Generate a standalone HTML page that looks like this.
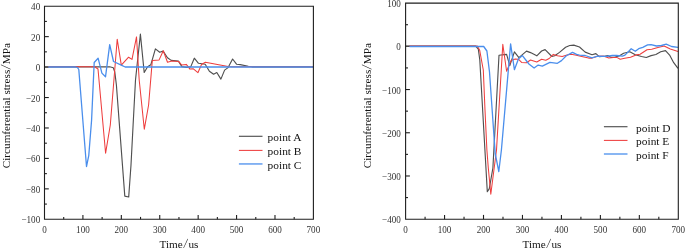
<!DOCTYPE html>
<html><head><meta charset="utf-8"><style>
html,body{margin:0;padding:0;background:#fff;}
svg{display:block;}
.tk{font-family:'Liberation Serif', 'Times New Roman', serif;font-size:9.8px;fill:#333;}
.ti{font-family:'Liberation Serif', 'Times New Roman', serif;font-size:11.2px;fill:#111;}
.lg{font-family:'Liberation Serif', 'Times New Roman', serif;font-size:11.4px;fill:#111;}
.sl{font-family:'IPAGothic',sans-serif;}
</style></head><body>
<svg width="685" height="248" viewBox="0 0 685 248">
<rect width="685" height="248" fill="#fff"/>
<line x1="63.71" y1="219.30" x2="63.71" y2="216.90" stroke="#1e1e1e" stroke-width="1.1"/>
<line x1="82.91" y1="219.30" x2="82.91" y2="215.00" stroke="#1e1e1e" stroke-width="1.1"/>
<line x1="102.12" y1="219.30" x2="102.12" y2="216.90" stroke="#1e1e1e" stroke-width="1.1"/>
<line x1="121.33" y1="219.30" x2="121.33" y2="215.00" stroke="#1e1e1e" stroke-width="1.1"/>
<line x1="140.54" y1="219.30" x2="140.54" y2="216.90" stroke="#1e1e1e" stroke-width="1.1"/>
<line x1="159.74" y1="219.30" x2="159.74" y2="215.00" stroke="#1e1e1e" stroke-width="1.1"/>
<line x1="178.95" y1="219.30" x2="178.95" y2="216.90" stroke="#1e1e1e" stroke-width="1.1"/>
<line x1="198.16" y1="219.30" x2="198.16" y2="215.00" stroke="#1e1e1e" stroke-width="1.1"/>
<line x1="217.36" y1="219.30" x2="217.36" y2="216.90" stroke="#1e1e1e" stroke-width="1.1"/>
<line x1="236.57" y1="219.30" x2="236.57" y2="215.00" stroke="#1e1e1e" stroke-width="1.1"/>
<line x1="255.78" y1="219.30" x2="255.78" y2="216.90" stroke="#1e1e1e" stroke-width="1.1"/>
<line x1="274.99" y1="219.30" x2="274.99" y2="215.00" stroke="#1e1e1e" stroke-width="1.1"/>
<line x1="294.19" y1="219.30" x2="294.19" y2="216.90" stroke="#1e1e1e" stroke-width="1.1"/>
<line x1="44.50" y1="204.08" x2="46.90" y2="204.08" stroke="#1e1e1e" stroke-width="1.1"/>
<line x1="44.50" y1="188.86" x2="48.80" y2="188.86" stroke="#1e1e1e" stroke-width="1.1"/>
<line x1="44.50" y1="173.64" x2="46.90" y2="173.64" stroke="#1e1e1e" stroke-width="1.1"/>
<line x1="44.50" y1="158.41" x2="48.80" y2="158.41" stroke="#1e1e1e" stroke-width="1.1"/>
<line x1="44.50" y1="143.19" x2="46.90" y2="143.19" stroke="#1e1e1e" stroke-width="1.1"/>
<line x1="44.50" y1="127.97" x2="48.80" y2="127.97" stroke="#1e1e1e" stroke-width="1.1"/>
<line x1="44.50" y1="112.75" x2="46.90" y2="112.75" stroke="#1e1e1e" stroke-width="1.1"/>
<line x1="44.50" y1="97.53" x2="48.80" y2="97.53" stroke="#1e1e1e" stroke-width="1.1"/>
<line x1="44.50" y1="82.31" x2="46.90" y2="82.31" stroke="#1e1e1e" stroke-width="1.1"/>
<line x1="44.50" y1="67.09" x2="48.80" y2="67.09" stroke="#1e1e1e" stroke-width="1.1"/>
<line x1="44.50" y1="51.86" x2="46.90" y2="51.86" stroke="#1e1e1e" stroke-width="1.1"/>
<line x1="44.50" y1="36.64" x2="48.80" y2="36.64" stroke="#1e1e1e" stroke-width="1.1"/>
<line x1="44.50" y1="21.42" x2="46.90" y2="21.42" stroke="#1e1e1e" stroke-width="1.1"/>
<text transform="translate(44.50,232.6) scale(0.93,1)" text-anchor="middle" class="tk">0</text>
<text transform="translate(82.91,232.6) scale(0.93,1)" text-anchor="middle" class="tk">100</text>
<text transform="translate(121.33,232.6) scale(0.93,1)" text-anchor="middle" class="tk">200</text>
<text transform="translate(159.74,232.6) scale(0.93,1)" text-anchor="middle" class="tk">300</text>
<text transform="translate(198.16,232.6) scale(0.93,1)" text-anchor="middle" class="tk">400</text>
<text transform="translate(236.57,232.6) scale(0.93,1)" text-anchor="middle" class="tk">500</text>
<text transform="translate(274.99,232.6) scale(0.93,1)" text-anchor="middle" class="tk">600</text>
<text transform="translate(313.40,232.6) scale(0.93,1)" text-anchor="middle" class="tk">700</text>
<text transform="translate(40.20,223.30) scale(0.93,1)" text-anchor="end" class="tk">−100</text>
<text transform="translate(40.20,192.86) scale(0.93,1)" text-anchor="end" class="tk">−80</text>
<text transform="translate(40.20,162.41) scale(0.93,1)" text-anchor="end" class="tk">−60</text>
<text transform="translate(40.20,131.97) scale(0.93,1)" text-anchor="end" class="tk">−40</text>
<text transform="translate(40.20,101.53) scale(0.93,1)" text-anchor="end" class="tk">−20</text>
<text transform="translate(40.20,71.09) scale(0.93,1)" text-anchor="end" class="tk">0</text>
<text transform="translate(40.20,40.64) scale(0.93,1)" text-anchor="end" class="tk">20</text>
<text transform="translate(40.20,10.20) scale(0.93,1)" text-anchor="end" class="tk">40</text>
<line x1="425.08" y1="219.20" x2="425.08" y2="216.80" stroke="#1e1e1e" stroke-width="1.1"/>
<line x1="444.56" y1="219.20" x2="444.56" y2="214.90" stroke="#1e1e1e" stroke-width="1.1"/>
<line x1="464.04" y1="219.20" x2="464.04" y2="216.80" stroke="#1e1e1e" stroke-width="1.1"/>
<line x1="483.51" y1="219.20" x2="483.51" y2="214.90" stroke="#1e1e1e" stroke-width="1.1"/>
<line x1="502.99" y1="219.20" x2="502.99" y2="216.80" stroke="#1e1e1e" stroke-width="1.1"/>
<line x1="522.47" y1="219.20" x2="522.47" y2="214.90" stroke="#1e1e1e" stroke-width="1.1"/>
<line x1="541.95" y1="219.20" x2="541.95" y2="216.80" stroke="#1e1e1e" stroke-width="1.1"/>
<line x1="561.43" y1="219.20" x2="561.43" y2="214.90" stroke="#1e1e1e" stroke-width="1.1"/>
<line x1="580.91" y1="219.20" x2="580.91" y2="216.80" stroke="#1e1e1e" stroke-width="1.1"/>
<line x1="600.39" y1="219.20" x2="600.39" y2="214.90" stroke="#1e1e1e" stroke-width="1.1"/>
<line x1="619.86" y1="219.20" x2="619.86" y2="216.80" stroke="#1e1e1e" stroke-width="1.1"/>
<line x1="639.34" y1="219.20" x2="639.34" y2="214.90" stroke="#1e1e1e" stroke-width="1.1"/>
<line x1="658.82" y1="219.20" x2="658.82" y2="216.80" stroke="#1e1e1e" stroke-width="1.1"/>
<line x1="405.60" y1="197.59" x2="408.00" y2="197.59" stroke="#1e1e1e" stroke-width="1.1"/>
<line x1="405.60" y1="175.98" x2="409.90" y2="175.98" stroke="#1e1e1e" stroke-width="1.1"/>
<line x1="405.60" y1="154.37" x2="408.00" y2="154.37" stroke="#1e1e1e" stroke-width="1.1"/>
<line x1="405.60" y1="132.76" x2="409.90" y2="132.76" stroke="#1e1e1e" stroke-width="1.1"/>
<line x1="405.60" y1="111.15" x2="408.00" y2="111.15" stroke="#1e1e1e" stroke-width="1.1"/>
<line x1="405.60" y1="89.54" x2="409.90" y2="89.54" stroke="#1e1e1e" stroke-width="1.1"/>
<line x1="405.60" y1="67.93" x2="408.00" y2="67.93" stroke="#1e1e1e" stroke-width="1.1"/>
<line x1="405.60" y1="46.32" x2="409.90" y2="46.32" stroke="#1e1e1e" stroke-width="1.1"/>
<line x1="405.60" y1="24.71" x2="408.00" y2="24.71" stroke="#1e1e1e" stroke-width="1.1"/>
<text transform="translate(405.60,232.6) scale(0.93,1)" text-anchor="middle" class="tk">0</text>
<text transform="translate(444.56,232.6) scale(0.93,1)" text-anchor="middle" class="tk">100</text>
<text transform="translate(483.51,232.6) scale(0.93,1)" text-anchor="middle" class="tk">200</text>
<text transform="translate(522.47,232.6) scale(0.93,1)" text-anchor="middle" class="tk">300</text>
<text transform="translate(561.43,232.6) scale(0.93,1)" text-anchor="middle" class="tk">400</text>
<text transform="translate(600.39,232.6) scale(0.93,1)" text-anchor="middle" class="tk">500</text>
<text transform="translate(639.34,232.6) scale(0.93,1)" text-anchor="middle" class="tk">600</text>
<text transform="translate(678.30,232.6) scale(0.93,1)" text-anchor="middle" class="tk">700</text>
<text transform="translate(400.90,223.20) scale(0.93,1)" text-anchor="end" class="tk">−400</text>
<text transform="translate(400.90,179.98) scale(0.93,1)" text-anchor="end" class="tk">−300</text>
<text transform="translate(400.90,136.76) scale(0.93,1)" text-anchor="end" class="tk">−200</text>
<text transform="translate(400.90,93.54) scale(0.93,1)" text-anchor="end" class="tk">−100</text>
<text transform="translate(400.90,50.32) scale(0.93,1)" text-anchor="end" class="tk">0</text>
<text transform="translate(400.90,7.10) scale(0.93,1)" text-anchor="end" class="tk">100</text>
<text x="178.95" y="247.7" text-anchor="middle" class="ti">Time<tspan class="sl">/</tspan>us</text>
<text x="541.95" y="247.7" text-anchor="middle" class="ti">Time<tspan class="sl">/</tspan>us</text>
<text transform="translate(9.6,105.6) rotate(-90)" text-anchor="middle" class="ti">Circumferential stress<tspan class="sl">/</tspan>MPa</text>
<text transform="translate(370.5,105.6) rotate(-90)" text-anchor="middle" class="ti">Circumferential stress<tspan class="sl">/</tspan>MPa</text>
<line x1="238.9" y1="136.3" x2="262.5" y2="136.3" stroke="#505050" stroke-width="1.15"/>
<text x="267.6" y="141.20" class="lg">point A</text>
<line x1="238.9" y1="150.4" x2="262.5" y2="150.4" stroke="#ee3e3e" stroke-width="1.05"/>
<text x="267.6" y="155.30" class="lg">point B</text>
<line x1="238.9" y1="163.95" x2="262.5" y2="163.95" stroke="#4a8eec" stroke-width="1.3"/>
<text x="267.6" y="168.85" class="lg">point C</text>
<line x1="603.9" y1="126.7" x2="627.5" y2="126.7" stroke="#505050" stroke-width="1.15"/>
<text x="636.1" y="131.60" class="lg">point D</text>
<line x1="603.9" y1="140.4" x2="627.5" y2="140.4" stroke="#ee3e3e" stroke-width="1.05"/>
<text x="636.1" y="145.30" class="lg">point E</text>
<line x1="603.9" y1="154.0" x2="627.5" y2="154.0" stroke="#4a8eec" stroke-width="1.3"/>
<text x="636.1" y="158.90" class="lg">point F</text>
<defs><clipPath id="cl"><rect x="44.5" y="6.2" width="268.90" height="213.10"/></clipPath><clipPath id="cr"><rect x="405.6" y="3.1" width="272.70" height="216.10"/></clipPath></defs><g clip-path="url(#cl)"><polyline fill="none" stroke="#505050" stroke-width="1.15" stroke-linejoin="round" points="44.5,66.8 109.7,66.8 113.3,67.8 114.8,72.0 116.4,85.0 124.8,196.1 128.7,197.0 131.0,165.0 133.1,125.0 135.5,80.0 140.4,34.1 144.2,72.5 147.6,66.8 150.8,64.8 155.4,48.9 159.7,52.3 163.1,51.1 167.5,57.7 171.2,60.4 178.4,61.1 181.9,66.6 186.3,67.4 190.7,66.9 194.3,58.2 198.5,63.3 205.2,64.3 209.4,71.2 213.6,74.2 216.8,72.5 220.9,79.1 224.6,70.1 228.1,67.6 232.6,59.0 236.7,64.3 240.2,64.6 248.3,66.3 252.0,66.8 313.4,66.8"/><polyline fill="none" stroke="#ee3e3e" stroke-width="1.05" stroke-linejoin="round" points="48.3,66.8 94.7,66.8 98.0,69.0 105.6,153.2 110.3,125.0 117.2,39.2 121.3,65.2 128.6,57.2 132.0,59.4 136.5,36.9 139.2,80.0 144.3,129.2 148.6,105.0 152.3,60.6 159.1,59.9 163.3,50.7 167.5,62.3 171.8,61.1 178.8,61.6 181.7,65.0 186.3,64.4 190.0,69.1 193.1,68.7 197.9,72.7 201.5,64.5 205.4,62.2 228.1,66.6 232.0,66.8 313.4,66.8"/><polyline fill="none" stroke="#4a8eec" stroke-width="1.3" stroke-linejoin="round" points="48.3,67.0 75.5,67.0 77.5,67.6 78.8,69.5 86.5,166.5 88.8,155.3 91.6,120.0 94.2,62.5 98.1,58.2 101.9,73.1 105.5,76.8 109.7,44.7 113.5,61.5 121.8,65.4 125.2,67.0 313.4,67.0"/></g><g clip-path="url(#cr)"><polyline fill="none" stroke="#505050" stroke-width="1.15" stroke-linejoin="round" points="405.6,46.1 475.6,46.1 478.3,49.0 479.8,60.0 487.3,191.7 489.3,188.6 492.9,168.0 499.0,55.2 506.6,54.4 509.8,65.6 514.4,51.9 518.9,57.6 526.5,51.1 530.5,52.6 536.8,55.8 541.6,51.0 545.1,49.6 551.9,56.5 554.7,55.8 559.5,52.4 565.6,47.3 569.7,45.5 573.8,45.1 579.5,47.0 585.2,52.1 592.0,54.7 595.9,53.6 599.3,56.6 604.4,56.3 607.8,55.5 611.2,57.4 614.5,57.2 619.1,55.9 623.6,53.3 629.8,51.7 635.3,54.7 641.5,56.5 646.3,57.5 651.1,55.6 655.9,54.5 660.7,51.7 665.5,50.6 669.6,55.1 673.7,62.7 678.0,68.4"/><polyline fill="none" stroke="#ee3e3e" stroke-width="1.05" stroke-linejoin="round" points="409.5,46.1 477.3,46.1 479.7,50.3 483.3,70.0 485.0,110.0 486.9,150.0 488.3,168.0 490.8,194.2 496.5,150.0 502.8,44.2 506.6,71.3 511.1,60.5 515.2,58.9 518.4,59.2 521.6,62.4 526.5,62.7 530.5,60.0 536.8,62.0 541.6,59.2 545.8,60.2 549.2,58.5 553.3,54.4 557.4,55.8 562.2,56.5 567.0,55.1 571.1,54.2 575.2,55.1 580.6,56.3 588.6,58.1 592.0,58.1 597.6,56.3 603.2,55.9 608.9,58.1 613.4,57.4 616.8,57.4 620.2,59.2 624.7,58.3 630.5,57.2 636.7,54.7 640.1,54.2 647.0,49.7 651.7,49.2 657.9,47.6 664.1,46.0 670.3,49.0 678.0,51.4"/><polyline fill="none" stroke="#4a8eec" stroke-width="1.3" stroke-linejoin="round" points="409.5,46.5 483.7,46.5 486.9,51.0 489.5,72.0 495.2,153.5 498.8,171.5 501.4,150.0 510.6,43.9 514.4,69.7 518.4,58.9 522.4,55.6 528.9,64.0 534.1,68.1 538.2,65.1 542.3,66.1 549.9,62.4 557.4,63.3 561.5,60.6 566.3,55.8 572.5,52.4 576.6,54.4 579.5,55.2 585.2,55.5 592.0,57.8 597.6,56.1 606.6,56.3 612.3,55.5 616.8,55.5 622.5,56.1 625.0,55.1 631.2,48.7 635.3,51.3 638.7,48.7 642.8,47.3 647.6,44.9 651.1,44.6 656.5,46.0 661.4,45.5 666.2,44.2 671.6,46.5 678.0,47.3"/></g>
<path d="M44.50,6.20 H313.40 V219.30 H44.50 Z" fill="none" stroke="#1e1e1e" stroke-width="1.1"/>
<path d="M405.60,3.10 H678.30 V219.20 H405.60 Z" fill="none" stroke="#1e1e1e" stroke-width="1.1"/>
</svg>
</body></html>
